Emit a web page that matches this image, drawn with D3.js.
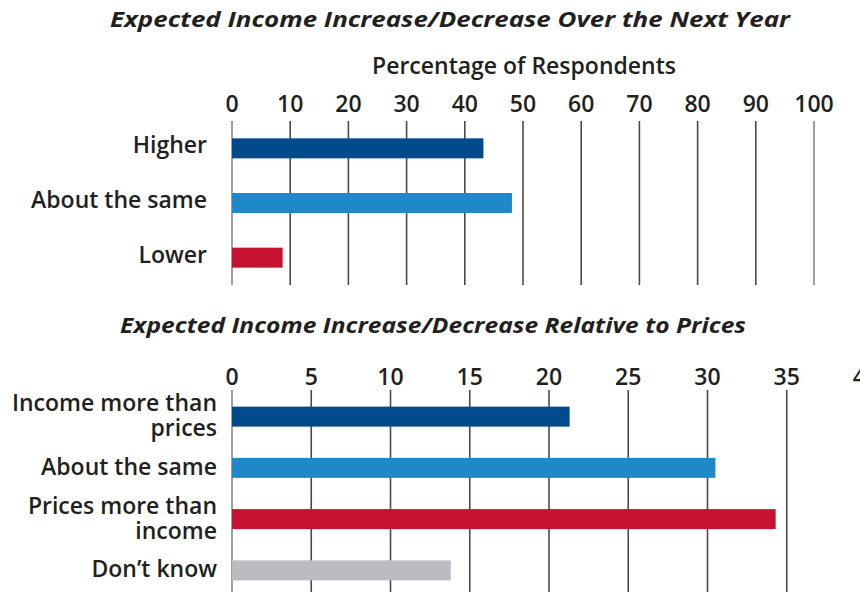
<!DOCTYPE html>
<html><head><meta charset="utf-8">
<script src="https://cdn.jsdelivr.net/npm/d3@7"></script>
<style>body{margin:0;background:#fff}text{font-family:"Open Sans",sans-serif;fill:#231f20}</style>
</head><body><svg id="c" width="860" height="592"></svg>
<script>
const title1 = "Expected Income Increase/Decrease Over the Next Year";
const title2 = "Expected Income Increase/Decrease Relative to Prices";
const axisTitle1 = "Percentage of Respondents";
const cats1 = ["Higher", "About the same", "Lower"];
const vals1 = [43.2, 48.1, 8.7];
const colors1 = ["#014a8c", "#1e88c9", "#c41230"];
const ticks1 = [0,10,20,30,40,50,60,70,80,90,100];
const cats2 = [["Income more than","prices"], ["About the same"], ["Prices more than","income"], ["Don\u2019t know"]];
const vals2 = [21.3, 30.5, 34.3, 13.8];
const colors2 = ["#014a8c", "#1e88c9", "#c41230", "#bbbcbf"];
const ticks2 = [0,5,10,15,20,25,30,35,40];

const svg = d3.select("#c");

svg.append("text").attr("x",450).attr("y",27).attr("text-anchor","middle")
  .attr("font-size",22).attr("font-weight",700).attr("font-style","italic")
  .attr("textLength",680).attr("lengthAdjust","spacingAndGlyphs").text(title1);
svg.append("text").attr("x",433).attr("y",333).attr("text-anchor","middle")
  .attr("font-size",22).attr("font-weight",700).attr("font-style","italic")
  .attr("textLength",626).attr("lengthAdjust","spacingAndGlyphs").text(title2);
svg.append("text").attr("x",524).attr("y",74).attr("text-anchor","middle")
  .attr("font-size",23).attr("font-weight",600).text(axisTitle1);

function panel(cats, vals, colors, ticks, xmax, xr, yr, gy0, gy1, tickY, labelX, labelDy) {
  const x = d3.scaleLinear().domain([0, xmax]).range(xr);
  const y = d3.scalePoint().domain(d3.range(cats.length)).range(yr).padding(0.5);
  const g = svg.append("g");
  g.selectAll("line.grid").data(ticks).join("line")
    .attr("x1", d=>x(d)).attr("x2", d=>x(d)).attr("y1", gy0).attr("y2", gy1)
    .attr("stroke", (d,i)=> i===0 || d===xmax ? "#8a8a8a" : "#4a4a4a").attr("stroke-width",1.6);
  g.selectAll("text.tick").data(ticks).join("text")
    .attr("x", d=>x(d)).attr("y", tickY).attr("text-anchor","middle")
    .attr("font-size",23).attr("font-weight",600).text(d=>d);
  g.selectAll("rect").data(vals).join("rect")
    .attr("x", x(0)).attr("y",(d,i)=>y(i)-10).attr("height",20)
    .attr("width", d=>x(d)-x(0)).attr("fill",(d,i)=>colors[i]);
  cats.forEach((c,i)=>{
    const lines = Array.isArray(c) ? c : [c];
    const t = g.append("text").attr("text-anchor","end").attr("font-size",23).attr("font-weight",600);
    const lh = 25;
    const start = y(i) - (lines.length-1)*lh/2 + labelDy;
    lines.forEach((l,j)=> t.append("tspan").attr("x",labelX).attr("y", start + j*lh).text(l));
  });
}

panel(cats1, vals1, colors1, ticks1, 100, [232, 814], [121, 285], 121, 285, 112, 207, 5);
panel(cats2, vals2, colors2, ticks2, 40, [232, 866], [391, 596], 390, 592, 385, 217, 7);
</script></body></html>
